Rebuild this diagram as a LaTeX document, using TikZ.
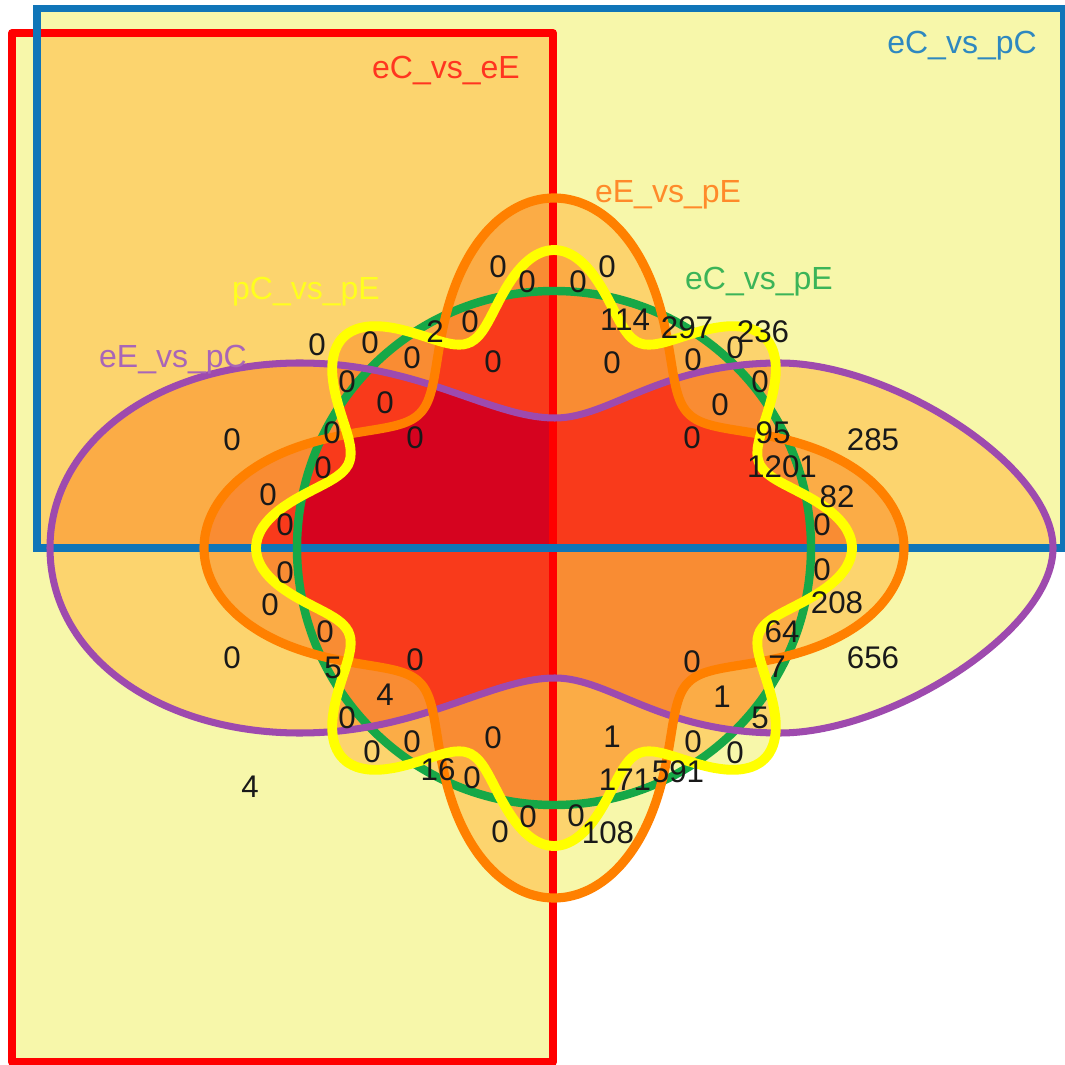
\documentclass[tikz,border=0pt]{standalone}
\usepackage{fontspec}
\setmainfont{Liberation Sans}
\usepackage{tikz}

\definecolor{lvl1}{HTML}{F7F7AA}
\definecolor{lvl2}{HTML}{FCD46E}
\definecolor{lvl3}{HTML}{FBAC46}
\definecolor{lvl4}{HTML}{F98C33}
\definecolor{lvl5}{HTML}{F93A1B}
\definecolor{lvl6}{HTML}{D6031F}
\definecolor{redline}{HTML}{FF0000}
\definecolor{blueline}{HTML}{1075B8}
\definecolor{purpleline}{HTML}{9E4AAE}
\definecolor{greenline}{HTML}{16A847}
\definecolor{orangeline}{HTML}{FF8000}
\definecolor{yellowline}{HTML}{FFFF00}
\definecolor{redlbl}{HTML}{FF3520}
\definecolor{bluelbl}{HTML}{2E88C0}
\definecolor{orangelbl}{HTML}{FF8A2A}
\definecolor{greenlbl}{HTML}{3BB458}
\definecolor{yellowlbl}{HTML}{FFFF1E}
\definecolor{purplelbl}{HTML}{A865B8}

\newcommand{\redset}{(12,33) rectangle (553,1062)}
\newcommand{\blueset}{(37,9) rectangle (1063,548)}
\newcommand{\purpleset}{(50,548) .. controls (50,440) and (160,363) .. (300,363)
  .. controls (420,363) and (490,418) .. (555,418)
  .. controls (610,418) and (660,363) .. (780,363)
  .. controls (890,363) and (1053,465) .. (1053,548)
  .. controls (1053,631) and (890,733) .. (780,733)
  .. controls (660,733) and (610,678) .. (555,678)
  .. controls (490,678) and (420,733) .. (300,733)
  .. controls (160,733) and (50,656) .. (50,548) -- cycle}
\newcommand{\greenset}{(554,548) circle (257)}
\newcommand{\orangeset}{plot[domain=0:358,samples=180,smooth cycle]
  ({554+(270+80*cos(4*\x))*cos(\x)},{548+(270+80*cos(4*\x))*sin(\x)})}
\newcommand{\yellowset}{plot[domain=0:358,samples=180,smooth cycle]
  ({554+(260+38*cos(8*\x))*cos(\x)},{548+(260+38*cos(8*\x))*sin(\x)})}

\begin{document}
\begin{tikzpicture}[x=0.01cm, y=-0.01cm,
    setlabel/.style={font=\fontsize{9.1}{11}\selectfont, inner sep=0pt, anchor=base},
    num/.style={font=\fontsize{8.9}{11}\selectfont, text=black!90, inner sep=0pt}]
  \useasboundingbox (0,0) rectangle (1065,1065);
  \clip (0,0) rectangle (1065,1065);
  \fill[white] (0,0) rectangle (1065,1065);

  % regions coloured by how many sets cover them
  \foreach \lvl in {1,...,6}{
    \foreach \m in {1,...,63}{
      \pgfmathtruncatemacro{\bitR}{mod(\m,2)}
      \pgfmathtruncatemacro{\bitB}{mod(floor(\m/2),2)}
      \pgfmathtruncatemacro{\bitP}{mod(floor(\m/4),2)}
      \pgfmathtruncatemacro{\bitG}{mod(floor(\m/8),2)}
      \pgfmathtruncatemacro{\bitO}{mod(floor(\m/16),2)}
      \pgfmathtruncatemacro{\bitY}{mod(floor(\m/32),2)}
      \pgfmathtruncatemacro{\cnt}{\bitR+\bitB+\bitP+\bitG+\bitO+\bitY}
      \ifnum\cnt=\lvl
        \begin{scope}
          \ifnum\bitR=1 \clip \redset;\fi
          \ifnum\bitB=1 \clip \blueset;\fi
          \ifnum\bitP=1 \clip \purpleset;\fi
          \ifnum\bitG=1 \clip \greenset;\fi
          \ifnum\bitO=1 \clip \orangeset;\fi
          \ifnum\bitY=1 \clip \yellowset;\fi
          \fill[lvl\lvl] (0,0) rectangle (1065,1065);
        \end{scope}
      \fi
    }
  }

  \draw[redline, line width=2.3pt, line join=round] \redset;
  \draw[blueline, line width=2pt] \blueset;
  \draw[greenline, line width=2.4pt] \greenset;
  \draw[purpleline, line width=2pt] \purpleset;
  \draw[orangeline, line width=2.6pt] \orangeset;
  \draw[yellowline, line width=2.8pt] \yellowset;

  \node[setlabel, text=redlbl] (lblRed) at (446,79) {eC\_vs\_eE};
  \node[setlabel, text=bluelbl] (lblBlue) at (962,54) {eC\_vs\_pC};
  \node[setlabel, text=orangelbl] (lblOrange) at (668,203) {eE\_vs\_pE};
  \node[setlabel, text=greenlbl] (lblGreen) at (759,290) {eC\_vs\_pE};
  \node[setlabel, text=yellowlbl] (lblYellow) at (306,300) {pC\_vs\_pE};
  \node[setlabel, text=purplelbl] (lblPurple) at (173,368) {eE\_vs\_pC};

  \foreach \v/\px/\py [count=\i] in {0/498/267, 0/527/282, 0/578/282, 0/607/267,
      2/435/332, 0/470/322, 0/370/343, 0/317/345, 0/412/358, 0/493/362,
      0/347/382, 0/385/403, 0/332/433, 0/415/438, 0/232/440, 0/323/468,
      0/268/495, 0/285/525, 0/285/573,
      114/625/320, 297/687/328, 236/763/332, 0/735/348, 0/612/363, 0/693/360,
      0/760/382, 0/720/405, 95/773/433, 0/692/438, 285/873/440, 1201/782/467,
      82/837/497, 0/822/525, 0/822/570,
      0/270/605, 0/325/632, 0/232/658, 5/333/668, 0/415/660, 4/385/695,
      0/347/718, 0/372/752, 0/412/742, 0/493/738, 16/438/770, 0/472/778,
      4/250/787, 0/528/817, 0/500/832, 0/576/816,
      208/837/603, 64/782/632, 656/873/658, 0/692/662, 7/777/667, 1/722/697,
      5/760/718, 1/612/737, 0/693/742, 0/735/753, 171/625/780, 591/678/772,
      108/608/833}
    \node[num] (n\i) at (\px,\py) {\v};
\end{tikzpicture}
\end{document}
